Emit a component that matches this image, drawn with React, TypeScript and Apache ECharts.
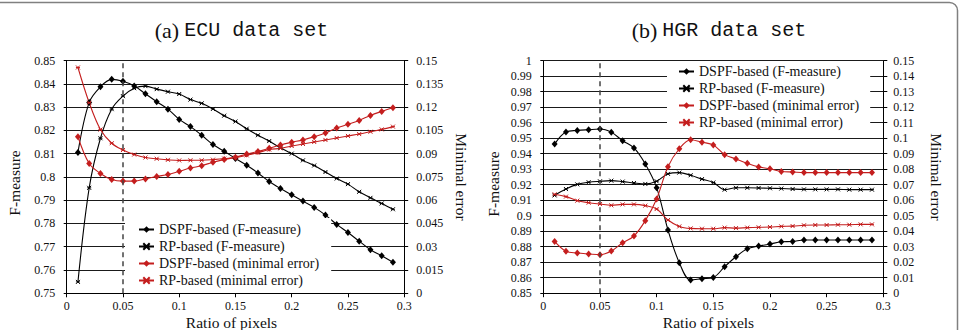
import React, { useEffect, useRef } from "react";
import * as echarts from "echarts";

// Ratio of pixels used for each measurement
const RATIOS = [
  0.01, 0.02, 0.03, 0.04, 0.05, 0.06, 0.07, 0.08, 0.09, 0.1,
  0.11, 0.12, 0.13, 0.14, 0.15, 0.16, 0.17, 0.18, 0.19, 0.2,
  0.21, 0.22, 0.23, 0.24, 0.25, 0.26, 0.27, 0.28, 0.29,
];

// (a) ECU data set
const ECU_DSPF_F = [
  0.8105, 0.832, 0.8387, 0.8419, 0.8411, 0.8391, 0.8357, 0.8323, 0.8291, 0.8247,
  0.8216, 0.8179, 0.8139, 0.811, 0.8079, 0.805, 0.8017, 0.798, 0.795, 0.7923,
  0.7896, 0.7869, 0.7836, 0.7796, 0.7761, 0.7724, 0.7687, 0.7661, 0.7633,
];
const ECU_RP_F = [
  0.7549, 0.7953, 0.8166, 0.8291, 0.8347, 0.8381, 0.839, 0.8377, 0.8366, 0.8356,
  0.8332, 0.8316, 0.8292, 0.8263, 0.8238, 0.8207, 0.8179, 0.8154, 0.8125, 0.81,
  0.8071, 0.8049, 0.8021, 0.7993, 0.7969, 0.7936, 0.791, 0.7886, 0.7861,
];
const ECU_DSPF_ERR = [
  0.1009, 0.0836, 0.0772, 0.0733, 0.0723, 0.0723, 0.0737, 0.0753, 0.0765, 0.0786,
  0.0807, 0.0822, 0.0845, 0.0862, 0.0876, 0.0898, 0.0913, 0.0934, 0.0956, 0.0973,
  0.0988, 0.1009, 0.1033, 0.1065, 0.1089, 0.1114, 0.1146, 0.1172, 0.1196,
];
const ECU_RP_ERR = [
  0.1455, 0.1228, 0.1055, 0.0967, 0.0923, 0.0894, 0.0875, 0.0867, 0.086, 0.0856,
  0.0857, 0.0857, 0.0861, 0.0868, 0.0874, 0.0889, 0.0906, 0.0926, 0.0934, 0.0949,
  0.0962, 0.0975, 0.0988, 0.1001, 0.1014, 0.1026, 0.1041, 0.1056, 0.1074,
];

// (b) HGR data set
const HGR_DSPF_F = [
  0.9462, 0.954, 0.955, 0.9555, 0.9559, 0.9538, 0.9484, 0.9437, 0.9333, 0.9181,
  0.8908, 0.8697, 0.8585, 0.8594, 0.8602, 0.8671, 0.8735, 0.8787, 0.8804, 0.8817,
  0.8832, 0.8834, 0.8843, 0.8843, 0.8843, 0.8843, 0.8843, 0.8843, 0.8843,
];
const HGR_RP_F = [
  0.9131, 0.9172, 0.9202, 0.9216, 0.9222, 0.9226, 0.922, 0.9211, 0.9205, 0.9222,
  0.927, 0.9278, 0.9261, 0.9236, 0.9214, 0.9168, 0.918, 0.918, 0.9179, 0.9177,
  0.9175, 0.9172, 0.917, 0.917, 0.917, 0.917, 0.9168, 0.9168, 0.9168,
];
const HGR_DSPF_ERR = [
  0.0334, 0.027, 0.0259, 0.0253, 0.0248, 0.0272, 0.0326, 0.0369, 0.0468, 0.0608,
  0.0816, 0.0932, 0.099, 0.0974, 0.0956, 0.0894, 0.0866, 0.0838, 0.0815, 0.0803,
  0.0785, 0.0782, 0.0778, 0.0778, 0.0778, 0.0778, 0.0778, 0.0778, 0.0778,
];
const HGR_RP_ERR = [
  0.0638, 0.0623, 0.0597, 0.0584, 0.0575, 0.0567, 0.0573, 0.0573, 0.0565, 0.0543,
  0.0472, 0.0431, 0.0418, 0.0416, 0.0416, 0.0423, 0.042, 0.0423, 0.0425, 0.0427,
  0.0431, 0.0433, 0.0438, 0.044, 0.044, 0.0442, 0.0442, 0.0444, 0.0444,
];

const SERIES_NAMES = [
  "DSPF-based (F-measure)",
  "RP-based (F-measure)",
  "DSPF-based (minimal error)",
  "RP-based (minimal error)",
];

// Ratio chosen for the experiments (dashed marker)
const SELECTED_RATIO = 0.05;

const SERIF = "Liberation Serif";
const MONO = "Liberation Mono";
const RED = "#c41e1e";
const INK = "#111";
const CROSS_MARK = "path://M0,0L10,10M10,0L0,10M0,5L10,5";

const fmt = (v: number) => String(parseFloat(v.toFixed(4)));
const pairs = (ys: number[]) => RATIOS.map((x, i) => [x, ys[i]]);

function xAxisFor(gridIndex: number) {
  return {
    gridIndex,
    type: "value",
    min: 0,
    max: 0.3,
    interval: 0.05,
    axisLine: { show: true, onZero: false, lineStyle: { color: "#000", width: 1 } },
    axisTick: { show: true, length: 4, lineStyle: { color: "#000" } },
    axisLabel: { fontFamily: SERIF, fontSize: 12, color: INK, margin: 7, formatter: fmt },
    splitLine: { show: false },
  };
}

function leftYAxis(gridIndex: number, min: number, max: number) {
  return {
    gridIndex,
    type: "value",
    position: "left",
    min,
    max,
    interval: 0.01,
    axisLine: { show: true, onZero: false, lineStyle: { color: "#000", width: 1 } },
    axisTick: { show: true, length: 3, lineStyle: { color: "#000" } },
    axisLabel: { fontFamily: SERIF, fontSize: 12, color: INK, margin: 11.5, formatter: fmt },
    splitLine: { show: true, lineStyle: { color: "#1a1a1a", width: 1 } },
  };
}

function rightYAxis(gridIndex: number, interval: number, margin: number) {
  return {
    gridIndex,
    type: "value",
    position: "right",
    min: 0,
    max: 0.15,
    interval,
    axisLine: { show: true, onZero: false, lineStyle: { color: "#000", width: 1 } },
    axisTick: { show: true, length: 4, lineStyle: { color: "#000" } },
    axisLabel: { fontFamily: SERIF, fontSize: 12, color: INK, margin, formatter: fmt },
    splitLine: { show: false },
  };
}

function seriesFor(
  axisBase: number,
  gridIndex: number,
  dspfF: number[],
  rpF: number[],
  dspfErr: number[],
  rpErr: number[]
) {
  const common = { type: "line", smooth: 0.35, xAxisIndex: gridIndex, z: 3 };
  const diamond = { symbol: "diamond", symbolSize: [6, 7] };
  const cross = { symbol: CROSS_MARK, symbolSize: 4 };
  return [
    {
      ...common,
      ...diamond,
      name: SERIES_NAMES[0],
      yAxisIndex: axisBase,
      data: pairs(dspfF),
      lineStyle: { color: "#000", width: 1.1 },
      itemStyle: { color: "#000" },
      markLine: {
        silent: true,
        symbol: ["none", "none"],
        label: { show: false },
        lineStyle: { color: "#444", width: 1.5, type: [5, 4] },
        data: [{ xAxis: SELECTED_RATIO }],
      },
    },
    {
      ...common,
      ...cross,
      name: SERIES_NAMES[1],
      yAxisIndex: axisBase,
      data: pairs(rpF),
      lineStyle: { color: "#000", width: 1.1 },
      itemStyle: { color: "#000", borderColor: "#000", borderWidth: 1 },
    },
    {
      ...common,
      ...diamond,
      name: SERIES_NAMES[2],
      yAxisIndex: axisBase + 1,
      data: pairs(dspfErr),
      lineStyle: { color: RED, width: 1.1 },
      itemStyle: { color: RED },
    },
    {
      ...common,
      ...cross,
      name: SERIES_NAMES[3],
      yAxisIndex: axisBase + 1,
      data: pairs(rpErr),
      lineStyle: { color: RED, width: 1.1 },
      itemStyle: { color: RED, borderColor: RED, borderWidth: 1 },
    },
  ];
}

function legendAt(left: number, top: number, padding: number[]) {
  return {
    data: SERIES_NAMES,
    orient: "vertical",
    left,
    top,
    padding,
    backgroundColor: "#fff",
    itemWidth: 15,
    itemHeight: 8,
    itemGap: 2,
    selectedMode: false,
    textStyle: { fontFamily: SERIF, fontSize: 14, color: INK, lineHeight: 15 },
  };
}

function titleText(x: number, tag: string, label: string) {
  return {
    type: "text",
    x,
    y: 30,
    silent: true,
    style: {
      text: `{t|${tag}}{s| }{b|${label}}`,
      align: "center",
      verticalAlign: "middle",
      rich: {
        t: { fontFamily: SERIF, fontSize: 22, fill: INK },
        s: { fontFamily: SERIF, fontSize: 20, fill: INK },
        b: { fontFamily: MONO, fontSize: 20, fill: INK },
      },
    },
  };
}

function axisName(x: number, y: number, text: string, rotation: number) {
  return {
    type: "text",
    x,
    y,
    rotation,
    silent: true,
    style: {
      text,
      fontFamily: SERIF,
      fontSize: 15.5,
      fill: INK,
      align: "center",
      verticalAlign: "middle",
    },
  };
}

export default function App() {
  const ref = useRef<HTMLDivElement>(null);

  useEffect(() => {
    if (!ref.current) return;
    const chart = echarts.init(ref.current, null, { renderer: "svg" });
    chart.setOption({
      animation: false,
      backgroundColor: "#fff",
      textStyle: { fontFamily: SERIF },
      grid: [
        { left: 66.7, top: 60.5, width: 337.5, height: 232.8 },
        { left: 543.3, top: 60.7, width: 340, height: 232.5 },
      ],
      xAxis: [xAxisFor(0), xAxisFor(1)],
      yAxis: [
        leftYAxis(0, 0.75, 0.85),
        rightYAxis(0, 0.015, 12),
        leftYAxis(1, 0.85, 1),
        rightYAxis(1, 0.01, 10),
      ],
      legend: [legendAt(125, 218, [4, 12, 4, 13]), legendAt(667, 62, [2, 11, 3, 11])],
      series: [
        ...seriesFor(0, 0, ECU_DSPF_F, ECU_RP_F, ECU_DSPF_ERR, ECU_RP_ERR),
        ...seriesFor(2, 1, HGR_DSPF_F, HGR_RP_F, HGR_DSPF_ERR, HGR_RP_ERR),
      ],
      graphic: [
        {
          type: "rect",
          silent: true,
          z: -1,
          shape: { x: -20, y: 2.5, width: 977.5, height: 400, r: 8 },
          style: { fill: "none", stroke: "#808080", lineWidth: 1.5 },
        },
        titleText(241.5, "(a)", "ECU data set"),
        titleText(719, "(b)", "HGR data set"),
        axisName(14, 183, "F-measure", Math.PI / 2),
        axisName(461, 177, "Minimal error", -Math.PI / 2),
        axisName(231.5, 322, "Ratio of pixels", 0),
        axisName(493, 184, "F-measure", Math.PI / 2),
        axisName(936.5, 177, "Minimal error", -Math.PI / 2),
        axisName(708.5, 322, "Ratio of pixels", 0),
      ],
    });
    return () => chart.dispose();
  }, []);

  return (
    <div
      ref={ref}
      style={{ position: "fixed", left: 0, top: 0, width: 964, height: 330, background: "#fff" }}
    />
  );
}
